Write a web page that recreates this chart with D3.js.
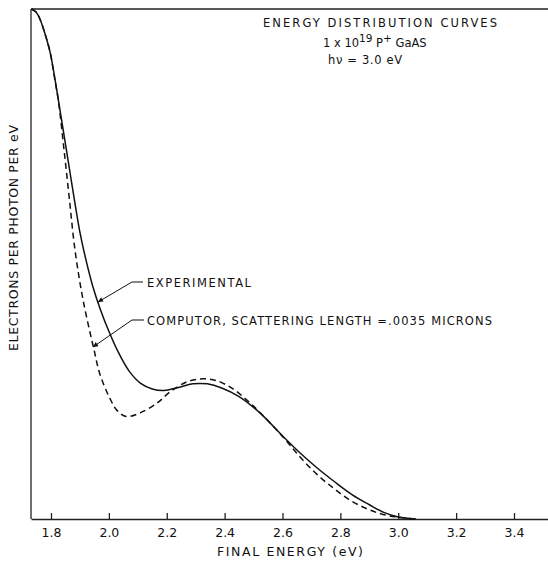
<!DOCTYPE html>
<html>
<head>
<meta charset="utf-8">
<script src="https://cdn.jsdelivr.net/npm/d3@7"></script>
<style>
  body { margin: 0; background: #fff; }
  svg { display: block; }
  text { font-family: "DejaVu Sans", "Liberation Sans", sans-serif; fill: #111; }
  .axis path, .axis line { stroke: #222; stroke-width: 1.3; }
  .axis text { font-size: 12.5px; }
  .curve { fill: none; stroke: #111; stroke-width: 1.5; }
</style>
</head>
<body>
<script>
// experimental curve (final energy in eV, relative yield)
var expEnergy = [1.733, 1.748, 1.762, 1.779, 1.797, 1.815, 1.833, 1.850, 1.867, 1.884, 1.900, 1.920, 1.945, 1.970, 2.000, 2.030, 2.070, 2.110, 2.150, 2.190, 2.240, 2.290, 2.340, 2.390, 2.450, 2.520, 2.600, 2.660, 2.720, 2.780, 2.840, 2.900, 2.950, 3.000, 3.060];
var expValue  = [1.000, 0.994, 0.980, 0.952, 0.915, 0.858, 0.795, 0.735, 0.675, 0.615, 0.562, 0.510, 0.455, 0.412, 0.368, 0.330, 0.290, 0.266, 0.255, 0.252, 0.258, 0.265, 0.265, 0.257, 0.240, 0.209, 0.163, 0.130, 0.100, 0.073, 0.048, 0.028, 0.013, 0.004, 0.000];

// computed curve, scattering length .0035 microns
var compEnergy = [1.733, 1.748, 1.762, 1.779, 1.797, 1.812, 1.826, 1.845, 1.864, 1.883, 1.911, 1.949, 1.969, 2.004, 2.028, 2.060, 2.108, 2.166, 2.211, 2.270, 2.325, 2.374, 2.429, 2.477, 2.522, 2.600, 2.660, 2.720, 2.775, 2.833, 2.892, 2.947, 3.006, 3.060];
var compValue  = [1.000, 0.994, 0.980, 0.952, 0.915, 0.866, 0.818, 0.724, 0.625, 0.527, 0.429, 0.331, 0.284, 0.236, 0.213, 0.201, 0.208, 0.227, 0.249, 0.269, 0.275, 0.271, 0.255, 0.233, 0.209, 0.162, 0.122, 0.087, 0.061, 0.037, 0.020, 0.009, 0.003, 0.000];

// x axis ticks
var tickValues = [1.8, 2.0, 2.2, 2.4, 2.6, 2.8, 3.0, 3.2, 3.4];

(function(){
  var width = 548,
      height = 561;

  var svg = d3.select("body")
    .append("svg")
    .attr("width", width)
    .attr("height", height);

  // scales, set so ticks land where the original put them
  var x = d3.scaleLinear()
    .domain([1.7309, 3.5175])
    .range([31, 548]);

  var y = d3.scaleLinear()
    .domain([0, 1])
    .range([519, 9]);

  // frame: left side and top line
  svg.append("line")
    .attr("x1", 31).attr("y1", 9)
    .attr("x2", 31).attr("y2", 519)
    .attr("stroke", "#222").attr("stroke-width", 1.3);
  svg.append("line")
    .attr("x1", 31).attr("y1", 9)
    .attr("x2", 548).attr("y2", 9)
    .attr("stroke", "#222").attr("stroke-width", 1.3);

  // bottom axis, ticks pointing up
  var xAxis = d3.axisBottom(x)
    .tickValues(tickValues)
    .tickFormat(d3.format(".1f"))
    .tickSizeInner(-6)
    .tickSizeOuter(0)
    .tickPadding(9);

  svg.append("g")
    .attr("class", "axis")
    .attr("transform", "translate(0," + y(0) + ")")
    .call(xAxis);

  // axis titles
  svg.append("text")
    .attr("x", 290)
    .attr("y", 556)
    .attr("text-anchor", "middle")
    .attr("font-size", 12.5)
    .attr("textLength", 146)
    .attr("lengthAdjust", "spacing")
    .text("FINAL ENERGY (eV)");

  svg.append("text")
    .attr("transform", "translate(18,238) rotate(-90)")
    .attr("text-anchor", "middle")
    .attr("font-size", 12.5)
    .attr("textLength", 226)
    .attr("lengthAdjust", "spacing")
    .text("ELECTRONS PER PHOTON PER eV");

  // curves
  var line = d3.line()
    .x(function(d){ return x(d[0]); })
    .y(function(d){ return y(d[1]); })
    .curve(d3.curveCatmullRom.alpha(0.5));

  svg.append("path")
    .datum(d3.zip(expEnergy, expValue))
    .attr("class", "curve")
    .attr("d", line);

  svg.append("path")
    .datum(d3.zip(compEnergy, compValue))
    .attr("class", "curve")
    .attr("stroke-dasharray", "6,4")
    .attr("d", line);

  // title block
  svg.append("text")
    .attr("x", 263).attr("y", 27)
    .attr("font-size", 11.5)
    .attr("textLength", 234)
    .attr("lengthAdjust", "spacing")
    .text("ENERGY DISTRIBUTION CURVES");

  var sub = svg.append("text")
    .attr("x", 323).attr("y", 47)
    .attr("font-size", 11.5);
  sub.append("tspan").text("1 x 10");
  sub.append("tspan").attr("dy", -5).attr("font-size", 10.5).text("19");
  sub.append("tspan").attr("dy", 5).text(" P");
  sub.append("tspan").attr("dy", -5).attr("font-size", 10.5).text("+");
  sub.append("tspan").attr("dy", 5).text(" GaAS");

  svg.append("text")
    .attr("x", 328).attr("y", 64)
    .attr("font-size", 11.5)
    .attr("textLength", 74)
    .attr("lengthAdjust", "spacing")
    .text("h\u03bd = 3.0 eV");

  // arrow head marker
  svg.append("defs").append("marker")
    .attr("id", "arrow")
    .attr("viewBox", "0 0 10 10")
    .attr("refX", 10).attr("refY", 5)
    .attr("markerWidth", 7).attr("markerHeight", 5)
    .attr("markerUnits", "userSpaceOnUse")
    .attr("orient", "auto")
    .append("path")
    .attr("d", "M0,0L10,5L0,10z")
    .attr("fill", "#111");

  // leader lines to the curves
  var leaders = [
    {pts: [[143, 282], [132, 282], [98, 302]], label: "EXPERIMENTAL", ty: 287, len: 104},
    {pts: [[144, 320], [132, 320], [93, 347]], label: "COMPUTOR, SCATTERING LENGTH =.0035 MICRONS", ty: 325, len: 345}
  ];

  leaders.forEach(function(l){
    svg.append("path")
      .attr("d", d3.line()(l.pts))
      .attr("fill", "none")
      .attr("stroke", "#111")
      .attr("stroke-width", 1)
      .attr("marker-end", "url(#arrow)");
    svg.append("text")
      .attr("x", 147).attr("y", l.ty)
      .attr("font-size", 11.5)
      .attr("textLength", l.len)
      .attr("lengthAdjust", "spacing")
      .text(l.label);
  });
})();
</script>
</body>
</html>
